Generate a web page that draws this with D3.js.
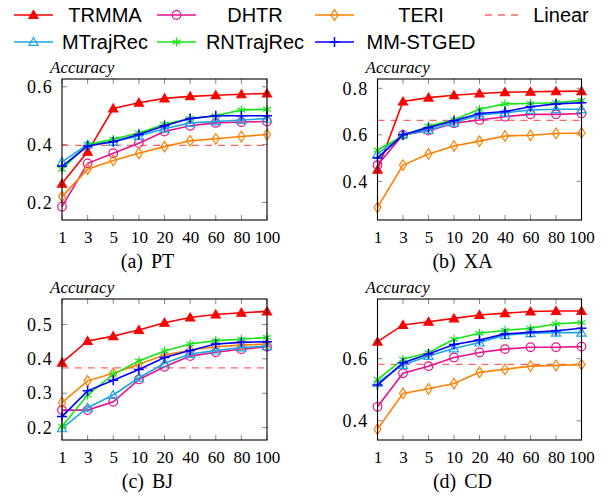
<!DOCTYPE html>
<html>
<head>
<meta charset="utf-8">
<script src="https://cdn.jsdelivr.net/npm/d3@7"></script>
<style>
  body { margin: 0; background: #fff; }
  svg { display: block; }
</style>
</head>
<body>
<div id="chart"></div>
<script>
// chart data
const xLabels = ['1', '3', '5', '10', '20', '40', '60', '80', '100'];
const methods = ['TRMMA', 'DHTR', 'TERI', 'MTrajRec', 'RNTrajRec', 'MM-STGED'];

const ptData = {
  TRMMA:     [0.265, 0.375, 0.525, 0.545, 0.56, 0.567, 0.571, 0.574, 0.577],
  DHTR:      [0.185, 0.335, 0.37, 0.405, 0.445, 0.465, 0.475, 0.478, 0.48],
  TERI:      [0.22, 0.315, 0.345, 0.37, 0.393, 0.413, 0.42, 0.428, 0.435],
  MTrajRec:  [0.34, 0.40, 0.41, 0.43, 0.455, 0.475, 0.48, 0.485, 0.49],
  RNTrajRec: [0.315, 0.40, 0.418, 0.44, 0.47, 0.49, 0.50, 0.52, 0.522],
  'MM-STGED':[0.325, 0.395, 0.41, 0.435, 0.465, 0.49, 0.50, 0.50, 0.50]
};
const xaData = {
  TRMMA:     [0.45, 0.743, 0.76, 0.77, 0.778, 0.783, 0.785, 0.787, 0.788],
  DHTR:      [0.47, 0.60, 0.618, 0.65, 0.664, 0.678, 0.688, 0.688, 0.692],
  TERI:      [0.288, 0.47, 0.518, 0.552, 0.573, 0.595, 0.598, 0.606, 0.608],
  MTrajRec:  [0.518, 0.60, 0.621, 0.652, 0.685, 0.695, 0.707, 0.71, 0.71],
  RNTrajRec: [0.535, 0.595, 0.638, 0.665, 0.71, 0.733, 0.735, 0.738, 0.748],
  'MM-STGED':[0.50, 0.60, 0.631, 0.661, 0.692, 0.70, 0.721, 0.733, 0.738]
};
const bjData = {
  TRMMA:     [0.389, 0.452, 0.466, 0.484, 0.505, 0.52, 0.529, 0.534, 0.538],
  DHTR:      [0.251, 0.251, 0.275, 0.34, 0.377, 0.408, 0.419, 0.428, 0.435],
  TERI:      [0.273, 0.336, 0.358, 0.384, 0.411, 0.425, 0.435, 0.44, 0.443],
  MTrajRec:  [0.198, 0.258, 0.295, 0.345, 0.387, 0.414, 0.424, 0.433, 0.437],
  RNTrajRec: [0.203, 0.295, 0.355, 0.394, 0.423, 0.443, 0.453, 0.457, 0.462],
  'MM-STGED':[0.232, 0.307, 0.338, 0.369, 0.404, 0.424, 0.443, 0.448, 0.45]
};
const cdData = {
  TRMMA:     [0.655, 0.709, 0.719, 0.73, 0.741, 0.747, 0.752, 0.754, 0.754],
  DHTR:      [0.445, 0.553, 0.576, 0.604, 0.62, 0.631, 0.637, 0.637, 0.639],
  TERI:      [0.373, 0.488, 0.503, 0.52, 0.556, 0.566, 0.576, 0.578, 0.581],
  MTrajRec:  [0.523, 0.58, 0.609, 0.633, 0.652, 0.676, 0.682, 0.684, 0.684],
  RNTrajRec: [0.533, 0.598, 0.619, 0.663, 0.682, 0.692, 0.698, 0.712, 0.717],
  'MM-STGED':[0.515, 0.587, 0.615, 0.646, 0.66, 0.68, 0.685, 0.69, 0.698]
};
const linearValues = [0.397, 0.662, 0.374, 0.582];
const captions = ['(a) PT', '(b) XA', '(c) BJ', '(d) CD'];
const yDomains = [[0.139, 0.627], [0.234, 0.84], [0.164, 0.574], [0.338, 0.7925]];
const yTicks = [[0.2, 0.4, 0.6], [0.4, 0.6, 0.8], [0.2, 0.3, 0.4, 0.5], [0.4, 0.6]];
const datasets = [ptData, xaData, bjData, cdData];

const width = 610, height = 498;
const colors = {
  TRMMA: '#ff0000', DHTR: '#e6128a', TERI: '#ff8000', Linear: '#ff6666',
  MTrajRec: '#1aa8e6', RNTrajRec: '#14e614', 'MM-STGED': '#0000ff'
};

const svg = d3.select('#chart').append('svg')
  .attr('width', width).attr('height', height);

// marker shapes
function drawMarker(g, name, cx, cy) {
  const c = colors[name];
  if (name === 'TRMMA' || name === 'MTrajRec') {
    g.append('path')
      .attr('d', d3.symbol(d3.symbolTriangle, 36)())
      .attr('transform', `translate(${cx},${cy + 0.8})`)
      .attr('fill', name === 'TRMMA' ? c : 'none')
      .attr('stroke', c).attr('stroke-width', 1.2);
  } else if (name === 'DHTR') {
    g.append('circle').attr('cx', cx).attr('cy', cy).attr('r', 4.3)
      .attr('fill', 'none').attr('stroke', c).attr('stroke-width', 1.2);
  } else if (name === 'TERI') {
    g.append('path')
      .attr('d', `M${cx},${cy - 5.3}L${cx + 3.5},${cy}L${cx},${cy + 5.3}L${cx - 3.5},${cy}Z`)
      .attr('fill', 'none').attr('stroke', c).attr('stroke-width', 1.2);
  } else if (name === 'RNTrajRec') {
    const r = 4.5;
    let d = '';
    for (let k = 0; k < 3; k++) {
      const a = Math.PI / 2 + k * Math.PI / 3;
      d += `M${cx + r * Math.cos(a)},${cy + r * Math.sin(a)}L${cx - r * Math.cos(a)},${cy - r * Math.sin(a)}`;
    }
    g.append('path').attr('d', d).attr('stroke', c).attr('stroke-width', 1.2).attr('fill', 'none');
  } else if (name === 'MM-STGED') {
    const r = 5;
    g.append('path')
      .attr('d', `M${cx - r},${cy}L${cx + r},${cy}M${cx},${cy - r}L${cx},${cy + r}`)
      .attr('stroke', c).attr('stroke-width', 1.5).attr('fill', 'none');
  }
}

// legend
const legendCols = [
  {line: 14, text: 105}, {line: 157, text: 255}, {line: 315, text: 421}, {line: 485, text: 561}
];
const legendItems = ['TRMMA', 'DHTR', 'TERI', 'Linear', 'MTrajRec', 'RNTrajRec', 'MM-STGED'];
const legend = svg.append('g');
legendItems.forEach((name, i) => {
  const col = legendCols[i % 4];
  const y = i < 4 ? 15 : 42;
  const lineLen = name === 'Linear' ? 35 : 39;
  legend.append('line')
    .attr('x1', col.line).attr('x2', col.line + lineLen)
    .attr('y1', y).attr('y2', y)
    .attr('stroke', colors[name])
    .attr('stroke-width', name === 'Linear' ? 1.3 : 1.6)
    .attr('stroke-dasharray', name === 'Linear' ? '7,6' : null);
  if (name !== 'Linear') drawMarker(legend, name, col.line + lineLen / 2, y);
  legend.append('text')
    .attr('x', col.text).attr('y', y)
    .attr('dy', '0.36em')
    .attr('text-anchor', 'middle')
    .style('font-family', '"Liberation Sans", Arial, sans-serif')
    .style('font-size', '20px')
    .text(name);
});

// panels
const panels = [
  {left: 62, right: 267, top: 79, bottom: 220},
  {left: 377.5, right: 581.5, top: 79, bottom: 220},
  {left: 62, right: 267, top: 299, bottom: 440},
  {left: 377.5, right: 581.5, top: 299, bottom: 440}
];

panels.forEach((p, i) => {
  const data = datasets[i];
  const x = d3.scalePoint().domain(xLabels).range([p.left, p.right]).padding(0);
  const y = d3.scaleLinear().domain(yDomains[i]).range([p.bottom, p.top]);
  const g = svg.append('g');
  const serif = '"Liberation Serif", "Times New Roman", serif';

  // inner ticks on all four sides
  const tickLen = 5;
  xLabels.forEach(v => {
    g.append('line').attr('x1', x(v)).attr('x2', x(v))
      .attr('y1', p.bottom).attr('y2', p.bottom - tickLen)
      .attr('stroke', '#888').attr('stroke-width', 1);
    g.append('line').attr('x1', x(v)).attr('x2', x(v))
      .attr('y1', p.top).attr('y2', p.top + tickLen)
      .attr('stroke', '#888').attr('stroke-width', 1);
  });
  yTicks[i].forEach(v => {
    g.append('line').attr('x1', p.left).attr('x2', p.left + tickLen)
      .attr('y1', y(v)).attr('y2', y(v))
      .attr('stroke', '#888').attr('stroke-width', 1);
    g.append('line').attr('x1', p.right).attr('x2', p.right - tickLen)
      .attr('y1', y(v)).attr('y2', y(v))
      .attr('stroke', '#888').attr('stroke-width', 1);
  });

  // axes labels via d3 axes without lines
  const xAxis = g.append('g')
    .attr('transform', `translate(0,${p.bottom})`)
    .call(d3.axisBottom(x).tickSize(0).tickPadding(11));
  const yAxis = g.append('g')
    .attr('transform', `translate(${p.left},0)`)
    .call(d3.axisLeft(y).tickValues(yTicks[i]).tickSize(0).tickPadding(9).tickFormat(d3.format('.1f')));
  [xAxis, yAxis].forEach(a => {
    a.select('.domain').remove();
    a.selectAll('text')
      .style('font-family', serif)
      .style('font-size', '17px')
      .attr('fill', '#000');
  });
  yAxis.selectAll('text')
    .style('font-size', '18px')
    .style('letter-spacing', '1.2px');

  // linear baseline
  g.append('line')
    .attr('x1', p.left).attr('x2', p.right)
    .attr('y1', y(linearValues[i])).attr('y2', y(linearValues[i]))
    .attr('stroke', colors.Linear).attr('stroke-width', 1.3)
    .attr('stroke-dasharray', '7,6');

  const line = d3.line().x((d, k) => x(xLabels[k])).y(d => y(d));
  methods.forEach(m => {
    g.append('path')
      .datum(data[m])
      .attr('d', line)
      .attr('fill', 'none')
      .attr('stroke', colors[m])
      .attr('stroke-width', 1.6);
    data[m].forEach((v, k) => drawMarker(g, m, x(xLabels[k]), y(v)));
  });

  // frame
  g.append('rect')
    .attr('x', p.left).attr('y', p.top)
    .attr('width', p.right - p.left).attr('height', p.bottom - p.top)
    .attr('fill', 'none').attr('stroke', '#000').attr('stroke-width', 1.1);

  g.append('text')
    .attr('x', p.left - 12).attr('y', p.top - 6)
    .style('font-family', serif)
    .style('font-style', 'italic')
    .style('font-size', '17px')
    .text('Accuracy');

  g.append('text')
    .attr('x', (p.left - 34 + p.right) / 2).attr('y', p.bottom + 48)
    .attr('text-anchor', 'middle')
    .style('font-family', serif)
    .style('font-size', '20px')
    .style('word-spacing', '3px')
    .text(captions[i]);
});
</script>
</body>
</html>
